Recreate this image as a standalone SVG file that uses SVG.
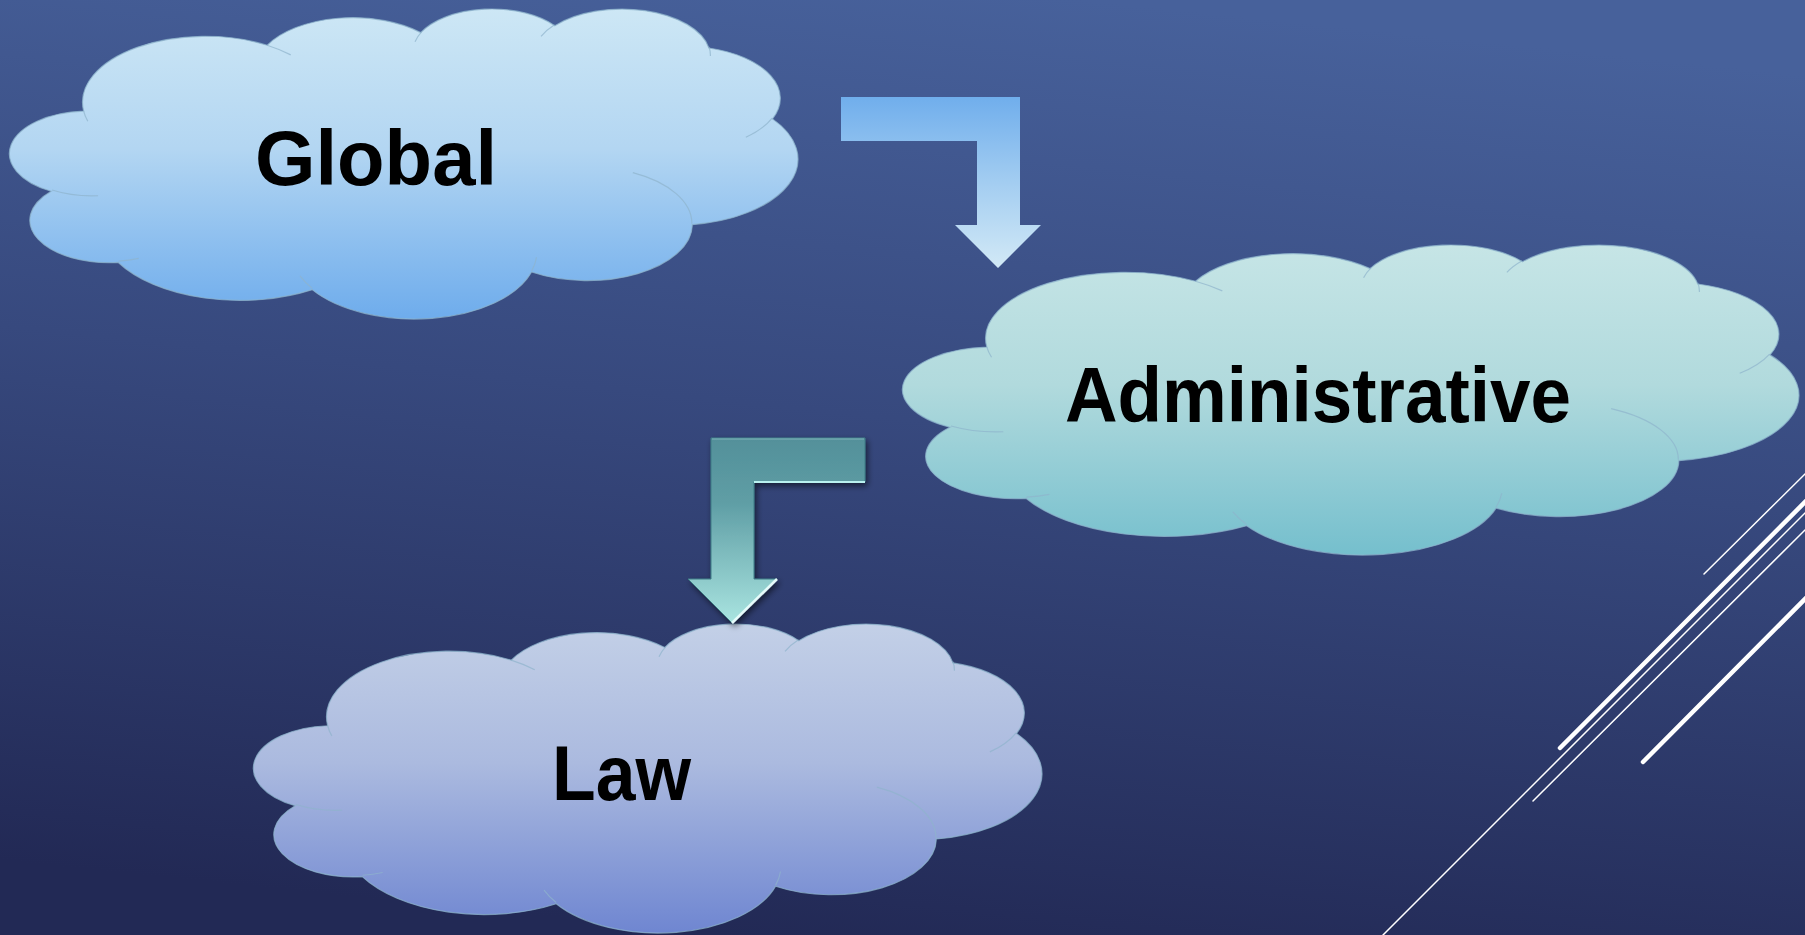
<svg xmlns="http://www.w3.org/2000/svg" xmlns:xlink="http://www.w3.org/1999/xlink" width="1805" height="935" viewBox="0 0 1805 935">
  <style>
    .cloud-outline { stroke: #8eb4cc; stroke-opacity: 0.75; stroke-width: 1.2; }
    .cloud-inner { fill: none; stroke: #8eb4cc; stroke-opacity: 0.7; stroke-width: 1.2; }
    .label { font-family: "Liberation Sans", Arial, sans-serif; font-weight: bold; font-size: 78px; fill: #000000; }
    .deco { stroke: #ffffff; fill: none; stroke-linecap: round; }
  </style>
  <defs>
    <linearGradient id="bg" x1="0.6" y1="0" x2="0.4" y2="1">
      <stop offset="0" stop-color="#47619b"/>
      <stop offset="0.45" stop-color="#37497e"/>
      <stop offset="1" stop-color="#222955"/>
    </linearGradient>
    <linearGradient id="gGlobal" x1="0" y1="0" x2="0" y2="1">
      <stop offset="0" stop-color="#cde7f5"/>
      <stop offset="0.45" stop-color="#b3d6f2"/>
      <stop offset="1" stop-color="#6eacec"/>
    </linearGradient>
    <linearGradient id="gAdmin" x1="0" y1="0" x2="0" y2="1">
      <stop offset="0" stop-color="#c6e5e6"/>
      <stop offset="0.45" stop-color="#b1dadd"/>
      <stop offset="1" stop-color="#75bfcd"/>
    </linearGradient>
    <linearGradient id="gLaw" x1="0" y1="0" x2="0" y2="1">
      <stop offset="0" stop-color="#c3d0e7"/>
      <stop offset="0.45" stop-color="#abbadf"/>
      <stop offset="1" stop-color="#6f86d1"/>
    </linearGradient>
    <linearGradient id="gArrow1" x1="0" y1="0" x2="0" y2="1">
      <stop offset="0" stop-color="#70aeec"/>
      <stop offset="0.5" stop-color="#a3cdf1"/>
      <stop offset="1" stop-color="#d2e9f6"/>
    </linearGradient>
    <linearGradient id="gArrow2" x1="0" y1="0" x2="0" y2="1">
      <stop offset="0" stop-color="#53909a"/>
      <stop offset="0.35" stop-color="#5f9ea5"/>
      <stop offset="1" stop-color="#a9e4e0"/>
    </linearGradient>
    <filter id="shadow" x="-20%" y="-20%" width="150%" height="150%">
      <feGaussianBlur in="SourceAlpha" stdDeviation="3"/>
      <feOffset dx="2" dy="3" result="b"/>
      <feComponentTransfer><feFuncA type="linear" slope="0.55"/></feComponentTransfer>
      <feMerge><feMergeNode/><feMergeNode in="SourceGraphic"/></feMerge>
    </filter>
    <path id="cloudShape" class="cloud-outline" vector-effect="non-scaling-stroke"
      d="M 3900 14370 A 6753 9190 0 0 1 14005 5202 A 5333 7267 0 0 1 22456 3432 A 4365 5945 0 0 1 29833 2482 A 4857 6595 0 0 1 38318 5577 A 5333 7273 0 0 1 41818 15461 A 6775 9220 0 0 1 37404 30205 A 5785 7867 0 0 1 28556 36815 A 6752 9215 0 0 1 16481 39268 A 7720 10543 0 0 1 5806 35475 A 4360 5918 0 0 1 2115 25552 A 4345 5945 0 0 1 3900 14370 Z"/>
    <path id="cloudInner" class="cloud-inner" vector-effect="non-scaling-stroke"
      d="M 4693 26177 A 4345 5945 0 0 1 2160 25380 M 6928 34899 A 4360 5918 0 0 1 5820 35280 M 16478 39090 A 6752 9215 0 0 1 15810 37348 M 28827 34751 A 6752 9215 0 0 1 28560 36661 M 34129 22954 A 5785 7867 0 0 1 37380 30089 M 41798 15354 A 5333 7273 0 0 1 40350 18030 M 38324 5426 A 4857 6595 0 0 1 38400 6690 M 29078 3952 A 4857 6595 0 0 1 29820 2339 M 22141 4720 A 4365 5945 0 0 1 22500 3330 M 14000 5192 A 6753 9190 0 0 1 15300 6540 M 4127 15789 A 6753 9190 0 0 1 3900 14371"/>
  </defs>

  <rect x="0" y="0" width="1805" height="935" fill="url(#bg)"/>

  <g id="decoration">
    <line class="deco" x1="1704" y1="574" x2="1810" y2="469" stroke-width="1.5"/>
    <line class="deco" x1="1560" y1="748" x2="1810" y2="497" stroke-width="4.5"/>
    <line class="deco" x1="1383" y1="935" x2="1810" y2="508" stroke-width="1.5"/>
    <line class="deco" x1="1533" y1="801" x2="1810" y2="525" stroke-width="1.5"/>
    <line class="deco" x1="1643" y1="762" x2="1810" y2="594" stroke-width="4.5"/>
  </g>

  <g id="node-global">
    <g transform="translate(12.8 7.98) scale(0.018167 0.007173)">
      <use href="#cloudShape" fill="url(#gGlobal)"/>
      <use href="#cloudInner"/>
    </g>
    <text class="label" x="255" y="185" textLength="242" lengthAdjust="spacingAndGlyphs">Global</text>
  </g>

  <g id="node-administrative">
    <g transform="translate(906.3 243.98) scale(0.020654 0.007173)">
      <use href="#cloudShape" fill="url(#gAdmin)"/>
      <use href="#cloudInner"/>
    </g>
    <text class="label" x="1065" y="422" textLength="506" lengthAdjust="spacingAndGlyphs">Administrative</text>
  </g>

  <g id="node-law">
    <g transform="translate(256.8 623) scale(0.018167 0.00715)">
      <use href="#cloudShape" fill="url(#gLaw)"/>
      <use href="#cloudInner"/>
    </g>
    <text class="label" x="552" y="800" textLength="139" lengthAdjust="spacingAndGlyphs">Law</text>
  </g>

  <g id="connectors">
    <polygon id="arrow-global-admin" points="841,97 1020,97 1020,225 1041,225 998,268 955,225 977,225 977,141 841,141" fill="url(#gArrow1)"/>
    <g id="arrow-admin-law" filter="url(#shadow)">
      <polygon points="711,438 865,438 865,482 754,482 754,579 777,579 732,623 688,579 711,579" fill="url(#gArrow2)" stroke="#3f7c86" stroke-width="1"/>
      <polyline points="754,482 865,482" stroke="#b9f2f0" stroke-width="2" fill="none"/>
      <polyline points="777,579 732,623" stroke="#e6fbfa" stroke-width="2.5" fill="none"/>
      <polyline points="712,439 864,439" stroke="#7fb4ba" stroke-width="1" fill="none"/>
    </g>
  </g>
</svg>
